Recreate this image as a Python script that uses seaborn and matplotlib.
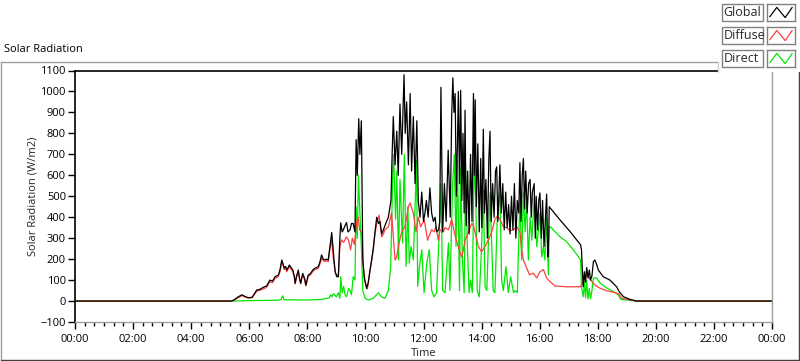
import numpy as np
import pandas as pd
import matplotlib
matplotlib.use("Agg")
import matplotlib.pyplot as plt
from matplotlib.patches import Rectangle
from matplotlib.lines import Line2D
from matplotlib.ticker import MultipleLocator
import seaborn as sns

# hours of day / W/m2
global_t = [0, 5.40, 5.50, 5.62, 5.75, 5.85, 5.96, 6.10, 6.20, 6.26, 6.35, 6.43, 6.52, 6.60, 6.71, 6.80, 6.89,
            7.00, 7.06, 7.12, 7.17, 7.20, 7.25, 7.29, 7.34, 7.38, 7.44, 7.50, 7.55, 7.58, 7.63, 7.69, 7.73, 7.77,
            7.84, 7.90, 7.95, 8.03, 8.10, 8.15, 8.20, 8.26, 8.32, 8.38, 8.44, 8.49, 8.55, 8.61, 8.66, 8.72, 8.78,
            8.84, 8.88, 8.92, 8.96, 9.02, 9.07, 9.12, 9.15, 9.20, 9.24, 9.30, 9.35, 9.40, 9.47, 9.52, 9.58, 9.64,
            9.68, 9.72, 9.77, 9.81, 9.86, 9.91, 9.96, 10.04, 10.10, 10.16, 10.22, 10.27, 10.33, 10.39, 10.45,
            10.50, 10.56, 10.62, 10.70, 10.79, 10.88, 10.92, 10.96, 11.02, 11.08, 11.13, 11.19, 11.25, 11.33,
            11.37, 11.42, 11.48, 11.54, 11.59, 11.65, 11.71, 11.77, 11.82, 11.88, 11.94, 12.00, 12.05, 12.10,
            12.16, 12.22, 12.28, 12.34, 12.40, 12.45, 12.52, 12.56, 12.60, 12.66, 12.72, 12.78, 12.85, 12.92,
            12.97, 13.01, 13.05, 13.09, 13.13, 13.17, 13.20, 13.24, 13.28, 13.32, 13.36, 13.40, 13.43, 13.47,
            13.52, 13.57, 13.62, 13.67, 13.72, 13.75, 13.78, 13.82, 13.87, 13.92, 13.97, 14.01, 14.06, 14.10,
            14.15, 14.20, 14.25, 14.29, 14.33, 14.38, 14.43, 14.48, 14.52, 14.56, 14.60, 14.63, 14.68, 14.73,
            14.78, 14.83, 14.88, 14.93, 14.98, 15.03, 15.08, 15.13, 15.18, 15.23, 15.28, 15.32, 15.36, 15.40,
            15.44, 15.48, 15.52, 15.57, 15.62, 15.67, 15.71, 15.75, 15.81, 15.85, 15.88, 15.93, 15.97, 16.01,
            16.06, 16.10, 16.15, 16.20, 16.24, 16.28, 16.31, 16.33, 16.70, 17.05, 17.27, 17.41, 17.44, 17.47,
            17.50, 17.54, 17.58, 17.62, 17.67, 17.71, 17.75, 17.80, 17.85, 17.90, 17.96, 18.02, 18.19, 18.42,
            18.65, 18.74, 18.88, 19.11, 19.34, 24]
global_v = [0, 0, 8, 20, 30, 22, 16, 18, 40, 53, 55, 61, 68, 72, 100, 95, 116,
            124, 150, 196, 175, 158, 165, 148, 160, 172, 160, 148, 120, 85, 120, 148, 110, 85,
            132, 110, 76, 124, 130, 140, 150, 156, 160, 164, 190, 220, 200, 196, 200, 196, 260,
            327, 260, 196, 140, 116, 116, 300, 373, 330, 340, 360, 375, 330, 340, 370, 370, 330,
            770, 600, 870, 700, 860, 200, 110, 60, 90, 150, 200, 250, 330, 400, 370,
            380, 320, 340, 370, 400, 480, 700, 880, 650, 810, 600, 940, 700, 1080,
            800, 950, 650, 990, 620, 880, 560, 860, 480, 400, 520, 380, 420, 480,
            400, 540, 420, 380, 400, 330, 340, 380, 1020, 330, 560, 380, 720, 400,
            880, 1065, 900, 990, 500, 760, 1000, 560, 1005, 480, 800, 420, 910, 360,
            620, 320, 700, 380, 990, 600, 960, 450, 750, 330, 680, 350, 820, 420,
            580, 300, 680, 810, 380, 560, 400, 620, 640, 380, 520, 650, 420, 560,
            340, 520, 350, 460, 320, 500, 340, 560, 300, 480, 420, 660, 380, 600,
            680, 440, 620, 420, 560, 580, 400, 520, 560, 300, 500, 340, 480, 516,
            300, 480, 260, 400, 510, 210, 300, 450, 387, 331, 292, 268, 244, 148,
            68, 140, 90, 160, 110, 148, 100, 120, 188, 196, 175, 148, 116, 100,
            68, 45, 21, 8, 0, 0]

diffuse_t = [0, 5.40, 5.50, 5.62, 5.75, 5.85, 5.96, 6.10, 6.20, 6.26, 6.35, 6.43, 6.52, 6.60, 6.71, 6.80, 6.89,
             7.00, 7.06, 7.12, 7.17, 7.20, 7.25, 7.29, 7.34, 7.38, 7.44, 7.50, 7.55, 7.58, 7.63, 7.69, 7.73, 7.77,
             7.84, 7.90, 7.95, 8.03, 8.10, 8.15, 8.20, 8.26, 8.32, 8.38, 8.44, 8.49, 8.55, 8.61, 8.66, 8.72, 8.78,
             8.84, 8.90, 8.96, 9.01, 9.07, 9.12, 9.18, 9.25, 9.35, 9.42, 9.49, 9.55, 9.62, 9.70, 9.75, 9.80, 9.87,
             9.93, 9.99, 10.07, 10.16, 10.27, 10.33, 10.39, 10.47, 10.56, 10.62, 10.67, 10.79, 10.90, 10.96,
             11.02, 11.08, 11.13, 11.20, 11.25, 11.36, 11.42, 11.48, 11.54, 11.60, 11.65, 11.74, 11.82, 11.90,
             11.96, 12.03, 12.14, 12.22, 12.28, 12.36, 12.43, 12.51, 12.57, 12.68, 12.74, 12.86, 12.97, 13.09,
             13.20, 13.26, 13.32, 13.38, 13.43, 13.55, 13.66, 13.72, 13.77, 13.89, 14.00, 14.12, 14.23, 14.35,
             14.46, 14.54, 14.63, 14.75, 14.86, 14.98, 15.10, 15.21, 15.32, 15.38, 15.44, 15.53, 15.65, 15.78,
             15.90, 16.01, 16.13, 16.24, 16.36, 16.53, 16.93, 17.39, 17.48, 17.56, 17.62, 17.70, 17.85, 17.95,
             18.08, 18.31, 18.60, 18.72, 18.82, 19.00, 19.34, 24]
diffuse_v = [0, 0, 6, 16, 26, 20, 14, 16, 36, 48, 50, 55, 60, 66, 92, 88, 108,
             116, 140, 185, 168, 150, 158, 140, 152, 165, 152, 140, 115, 82, 115, 140, 105, 82,
             125, 104, 72, 118, 124, 134, 142, 150, 152, 158, 180, 205, 192, 188, 192, 188, 250,
             290, 196, 135, 116, 130, 260, 292, 280, 306, 290, 244, 300, 270, 380, 400, 340, 330,
             160, 90, 58, 145, 245, 320, 370, 410, 306, 320, 340, 354, 420, 306,
             196, 210, 260, 300, 330, 354, 400, 450, 468, 440, 420, 330, 400, 354,
             370, 385, 290, 320, 340, 330, 354, 290, 340, 330, 350, 340, 390, 310,
             260, 230, 210, 250, 290, 330, 370, 360, 330, 260, 235, 260, 290, 330,
             390, 405, 390, 355, 350, 335, 340, 355, 330, 245, 196, 165, 125, 133,
             110, 140, 150, 110, 92, 72, 68, 68, 84, 110, 124, 110, 84, 72,
             61, 49, 40, 35, 14, 8, 0, 0]

direct_t = [0, 5.40, 6.00, 7.00, 7.10, 7.15, 7.20, 8.00, 8.50, 8.75, 8.80, 8.84, 8.90, 9.00, 9.07, 9.12, 9.15,
            9.20, 9.25, 9.30, 9.35, 9.42, 9.47, 9.52, 9.58, 9.64, 9.68, 9.72, 9.76, 9.81, 9.86, 9.91, 9.99, 10.10,
            10.27, 10.45, 10.55, 10.67, 10.79, 10.87, 10.94, 10.97, 11.04, 11.08, 11.14, 11.19, 11.28, 11.34,
            11.40, 11.46, 11.51, 11.57, 11.65, 11.76, 11.80, 11.86, 11.94, 12.02, 12.11, 12.20, 12.28, 12.36,
            12.45, 12.55, 12.60, 12.66, 12.74, 12.86, 12.91, 13.00, 13.06, 13.12, 13.17, 13.24, 13.28, 13.34,
            13.40, 13.45, 13.51, 13.57, 13.62, 13.68, 13.74, 13.80, 13.85, 13.92, 14.00, 14.06, 14.12, 14.18,
            14.29, 14.35, 14.40, 14.46, 14.54, 14.63, 14.69, 14.75, 14.84, 14.92, 15.00, 15.10, 15.16, 15.23,
            15.32, 15.38, 15.44, 15.50, 15.55, 15.61, 15.67, 15.73, 15.81, 15.90, 15.96, 16.01, 16.07, 16.13,
            16.18, 16.24, 16.30, 16.33, 16.36, 16.70, 16.93, 17.16, 17.33, 17.41, 17.44, 17.50, 17.54, 17.58,
            17.62, 17.66, 17.71, 17.75, 17.80, 17.85, 17.96, 18.08, 18.31, 18.54, 18.71, 18.79, 19.34, 24]
direct_v = [0, 0, 2, 4, 8, 25, 6, 5, 8, 15, 30, 20, 35, 20, 40, 13, 116,
            40, 70, 30, 20, 60, 50, 30, 116, 100, 450, 300, 600, 420, 260, 50, 13, 5,
            13, 40, 20, 13, 50, 165, 600, 700, 390, 620, 196, 580, 277, 700,
            165, 450, 180, 260, 196, 670, 70, 165, 245, 40, 180, 245, 50, 20,
            40, 354, 560, 50, 40, 277, 50, 545, 700, 260, 670, 50, 640, 196,
            40, 640, 260, 40, 100, 40, 640, 490, 50, 20, 260, 530, 70, 50,
            516, 260, 50, 40, 390, 516, 100, 50, 165, 40, 116, 40, 50, 40,
            490, 196, 516, 330, 490, 196, 400, 290, 490, 260, 340, 420, 210, 260,
            196, 400, 125, 355, 355, 307, 283, 244, 212, 196, 68, 21, 90, 15,
            100, 10, 60, 10, 50, 110, 110, 86, 62, 45, 29, 8, 0, 0]

series_names = ["Global", "Diffuse", "Direct"]
series_colors = ["#000000", "#ff4040", "#00e800"]
y_ticks = list(range(-100, 1101, 100))
x_ticks = list(range(0, 25, 2))
x_tick_labels = ["00:00", "02:00", "04:00", "06:00", "08:00", "10:00", "12:00",
                 "14:00", "16:00", "18:00", "20:00", "22:00", "00:00"]

df = pd.concat([
    pd.DataFrame({"Time": global_t, "value": global_v, "series": "Global"}),
    pd.DataFrame({"Time": diffuse_t, "value": diffuse_v, "series": "Diffuse"}),
    pd.DataFrame({"Time": direct_t, "value": direct_v, "series": "Direct"}),
], ignore_index=True)

sns.set_style("white")
plt.rcParams["font.family"] = ["Open Sans", "DejaVu Sans"]

W, H = 800, 361
fig = plt.figure(figsize=(W / 100, H / 100), dpi=100)

def fx(px):
    return px / W

def fy(py):
    return 1 - py / H

# outer panel frame (LabVIEW style)
fig.add_artist(Line2D([fx(0.5), fx(799.5)], [fy(61.5), fy(61.5)], color="#a0a0a0", lw=1))
fig.add_artist(Line2D([fx(0.5), fx(0.5)], [fy(61.5), fy(359.5)], color="#a0a0a0", lw=1))
fig.add_artist(Line2D([fx(0.5), fx(799.5)], [fy(359.5), fy(359.5)], color="#404040", lw=1))
fig.add_artist(Line2D([fx(798.5), fx(798.5)], [fy(61.5), fy(359.5)], color="#404040", lw=1))
fig.text(fx(4), fy(50), "Solar Radiation", fontsize=8, va="center", ha="left", color="#000000")

ax = fig.add_axes([fx(75), fy(322), fx(772) - fx(75), fy(70.5) - fy(322)])
# Global drawn last so it sits on top, as in the original
draw_order = ["Direct", "Diffuse", "Global"]
palette = dict(zip(series_names, series_colors))
sns.lineplot(data=df, x="Time", y="value", hue="series", hue_order=draw_order,
             palette=palette, estimator=None, sort=False, linewidth=0.9,
             legend=False, ax=ax)

ax.set_xlim(0, 24)
ax.set_ylim(-100, 1100)
ax.set_yticks(y_ticks)
ax.set_xticks(x_ticks)
ax.set_xticklabels(x_tick_labels)
ax.xaxis.set_minor_locator(MultipleLocator(1 / 3))
ax.tick_params(axis="x", which="major", direction="out", length=5, width=1, colors="#000000",
               labelsize=8, pad=3.5, bottom=True)
ax.tick_params(axis="x", which="minor", direction="out", length=3, width=1, colors="#000000", bottom=True)
ax.tick_params(axis="y", which="major", direction="out", length=5, width=1, colors="#000000",
               labelsize=8, pad=1.5, left=True)
ax.set_xlabel("Time", fontsize=8)
ax.set_ylabel("Solar Radiation (W/m2)", fontsize=8)
ax.xaxis.set_label_coords(0.5, -0.103)
ax.yaxis.set_label_coords(-0.052, 0.5)
for side in ["top", "left"]:
    ax.spines[side].set_color("#000000")
    ax.spines[side].set_linewidth(1.2)
for side in ["bottom", "right"]:
    ax.spines[side].set_color("#a0a0a0")
    ax.spines[side].set_linewidth(1)

# legend block in the top right corner
fig.add_artist(Rectangle((fx(718), fy(72)), fx(82), fy(0) - fy(72), transform=fig.transFigure,
                         facecolor="white", edgecolor="none", zorder=5))
fig.add_artist(Line2D([fx(718), fx(718)], [fy(62), fy(72)], color="#d0d0d0", lw=1, zorder=6))
box_tops = [4, 27, 50]
for name, color, top in zip(series_names, series_colors, box_tops):
    fig.add_artist(Rectangle((fx(721.5), fy(top + 17)), fx(41), fy(top) - fy(top + 17),
                             transform=fig.transFigure, facecolor="white", edgecolor="#808080",
                             lw=1, zorder=6))
    fig.text(fx(723.5), fy(top + 8.5), name, fontsize=9, va="center", ha="left", zorder=7)
    sw = fig.add_axes([fx(767), fy(top + 17), fx(28), fy(top) - fy(top + 17)], zorder=7)
    sw.plot([0.1, 0.35, 0.65, 0.9], [0.25, 0.8, 0.2, 0.8], color=color, lw=0.9)
    sw.set_xlim(0, 1)
    sw.set_ylim(0, 1)
    sw.set_xticks([])
    sw.set_yticks([])
    for s in sw.spines.values():
        s.set_color("#808080")
        s.set_linewidth(1)

fig.savefig("out.png", dpi=100)
